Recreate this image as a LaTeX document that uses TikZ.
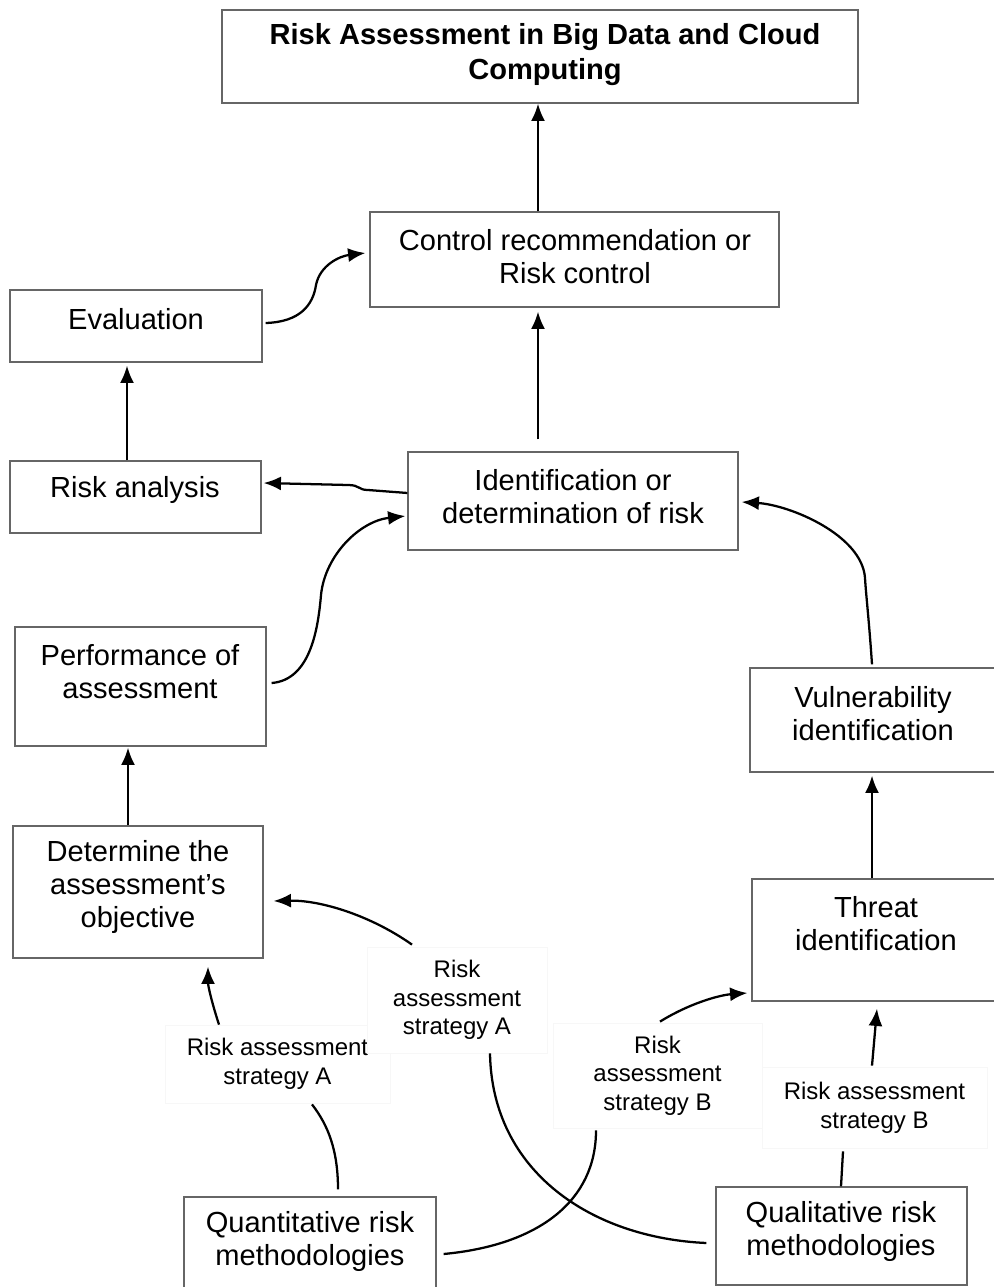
\documentclass[tikz,border=0pt]{standalone}
\usepackage{fontspec}
\setmainfont{Liberation Sans}
\usetikzlibrary{calc,arrows.meta}
\newcommand\pxu[1]{#1*0.75pt}
\tikzset{
  box/.style={draw=black!60, line width=0.9pt, fill=white, inner sep=0pt},
  lbox/.style={draw=black!3, line width=0.6pt, fill=white, inner sep=0pt, align=center,
    font=\fontsize{18}{21.5}\selectfont},
  txt/.style={inner sep=0pt, align=center, font=\fontsize{21.8}{24.8}\selectfont},
  arr/.style={line width=1.7pt, -{Latex[length=13pt,width=10.5pt]}},
  ln/.style={line width=1.7pt},
}
\begin{document}
\begin{tikzpicture}[x=0.75pt,y=-0.75pt]
\useasboundingbox (0,0) rectangle (993,1287);
% boxes
\node[box, minimum width=\pxu{636}, minimum height=\pxu{93}] (title) at (540,56.5) {};
\node[txt, font=\fontsize{21.8}{26.2}\selectfont\bfseries] (title-t) at (545,55) {Risk Assessment in Big Data and Cloud\\Computing};
\node[box, minimum width=\pxu{409}, minimum height=\pxu{95}] (ctrl) at (574.5,259.5) {};
\node[txt] (ctrl-t) at (575,257) {Control recommendation or\\Risk control};
\node[box, minimum width=\pxu{252}, minimum height=\pxu{72}] (eval) at (136,326) {};
\node[txt] (eval-t) at (136,319) {Evaluation};
\node[box, minimum width=\pxu{251}, minimum height=\pxu{72}] (riskan) at (135.5,497) {};
\node[txt] (riskan-t) at (135,490) {Risk analysis};
\node[box, minimum width=\pxu{330}, minimum height=\pxu{98}] (ident) at (573,501) {};
\node[txt] (ident-t) at (573,497) {Identification or\\determination of risk};
\node[box, minimum width=\pxu{251}, minimum height=\pxu{119}] (perf) at (140.5,686.5) {};
\node[txt] (perf-t) at (140,672) {Performance of\\assessment};
\node[box, minimum width=\pxu{245}, minimum height=\pxu{104}] (vuln) at (872.5,720) {};
\node[txt] (vuln-t) at (873,713.5) {Vulnerability\\identification};
\node[box, minimum width=\pxu{250}, minimum height=\pxu{132}] (det) at (138,892) {};
\node[txt] (det-t) at (138,887) {Determine the\\assessment's\\objective};
\node[box, minimum width=\pxu{243}, minimum height=\pxu{122}] (threat) at (873.5,940) {};
\node[txt] (threat-t) at (876,923.5) {Threat\\identification};
\node[box, minimum width=\pxu{252}, minimum height=\pxu{92}] (quant) at (310,1243) {};
\node[txt] (quant-t) at (310,1241.5) {Quantitative risk\\methodologies};
\node[box, minimum width=\pxu{251}, minimum height=\pxu{98}] (qual) at (841.5,1236) {};
\node[txt] (qual-t) at (841,1231.5) {Qualitative risk\\methodologies};
% label boxes
\node[lbox, minimum width=\pxu{225}, minimum height=\pxu{78}] (lA1) at (277.5,1064) {Risk assessment\\strategy A};
\node[lbox, minimum width=\pxu{180}, minimum height=\pxu{106}] (lA2) at (457,1000) {Risk\\assessment\\strategy A};
\node[lbox, minimum width=\pxu{209}, minimum height=\pxu{105}] (lB1) at (657.5,1075.5) {Risk\\assessment\\strategy B};
\node[lbox, minimum width=\pxu{225}, minimum height=\pxu{81}] (lB2) at (874.5,1107.5) {Risk assessment\\strategy B};
% connectors
\draw[arr] ($(ctrl.north)+(-36.5,0)$) -- ($(title.south)+(-2,0)$);
\draw[arr] ($(ident.north)+(-35,-12)$) -- ($(ctrl.south)+(-36.5,4)$);
\draw[arr] ($(eval.east)+(3,-3)$) .. controls (300,322) and (313,305) .. (316,285)
  .. controls (320,265) and (340,256) .. ($(ctrl.west)+(-4,-6.5)$);
\draw[arr] ($(riskan.north)+(-8.5,0)$) -- ($(eval.south)+(-9,3)$);
\draw[arr] ($(ident.west)+(0,-8)$) -- (368,490) .. controls (358,490) and (360,485) .. (348,485)
  -- ($(riskan.east)+(2,-14)$);
\draw[arr] ($(perf.east)+(5,-3.5)$) .. controls (310,680) and (318,630) .. (321,595)
  .. controls (325,555) and (360,521) .. ($(ident.west)+(-2,15)$);
\draw[arr] ($(det.north)+(-10,0)$) -- ($(perf.south)+(-12.5,1)$);
\draw[arr] ($(vuln.north)+(-0.5,-3)$) .. controls (869,620) and (866,595) .. (865,578)
  .. controls (862,535) and (790,505) .. ($(ident.east)+(3,1)$);
\draw[arr] ($(threat.north)+(-1.5,0)$) -- ($(vuln.south)+(-0.5,3)$);
\draw[arr] ($(lA1.north)+(-58.5,0)$) .. controls (211,1000) and (208,985) .. ($(det.south)+(70,8)$);
\draw[ln] ($(quant.north)+(28,-7)$) .. controls (338,1150) and (328,1125) .. ($(lA1.south)+(34.5,1)$);
\draw[arr] ($(lA2.north)+(-45,-2)$) .. controls (370,915) and (320,900) .. ($(det.east)+(10,9)$);
\draw[ln] ($(qual.west)+(-9,7)$) .. controls (592,1238) and (492,1172) .. ($(lA2.south)+(33,0)$);
\draw[ln] ($(quant.east)+(7,11)$) .. controls (540,1245) and (596,1200) .. ($(lB1.south)+(-61.5,2)$);
\draw[arr] ($(lB1.north)+(2.5,-1)$) .. controls (690,1003) and (720,995) .. ($(threat.west)+(-4,53)$);
\draw[ln] ($(qual.north)+(-0.5,0)$) -- ($(lB2.south)+(-31.5,3)$);
\draw[arr] ($(lB2.north)+(-2.5,-1)$) -- ($(threat.south)+(3.5,7)$);
\end{tikzpicture}
\end{document}
